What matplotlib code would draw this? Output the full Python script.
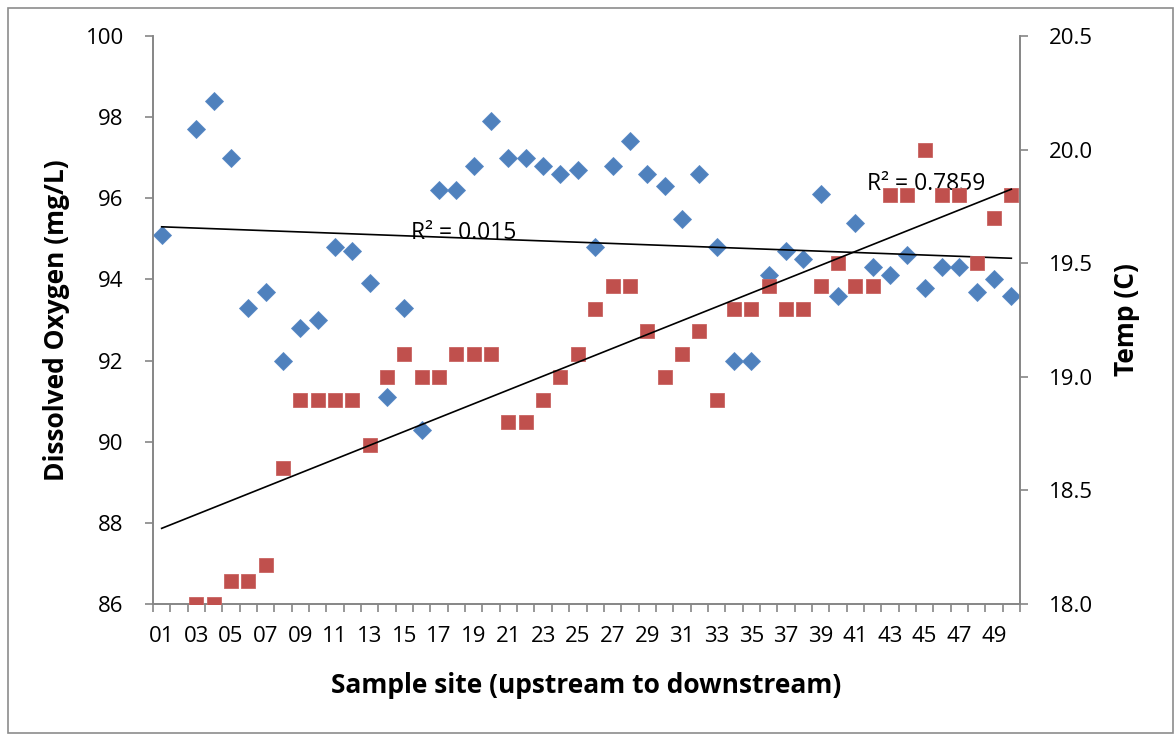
import numpy as np
import matplotlib.pyplot as plt
from matplotlib.patches import Rectangle

plt.rcParams['font.family'] = ['Open Sans', 'DejaVu Sans']

# sample sites 01..50 (site 02 has no readings, site 01 no temperature)
sites = np.arange(1, 51)
site_labels = ['%02d' % s for s in sites]

dissolved_oxygen = [
    95.1, None, 97.7, 98.4, 97.0, 93.3, 93.7, 92.0, 92.8, 93.0,
    94.8, 94.7, 93.9, 91.1, 93.3, 90.3, 96.2, 96.2, 96.8, 97.9,
    97.0, 97.0, 96.8, 96.6, 96.7, 94.8, 96.8, 97.4, 96.6, 96.3,
    95.5, 96.6, 94.8, 92.0, 92.0, 94.1, 94.7, 94.5, 96.1, 93.6,
    95.4, 94.3, 94.1, 94.6, 93.8, 94.3, 94.3, 93.7, 94.0, 93.6,
]
temperature = [
    None, None, 18.0, 18.0, 18.1, 18.1, 18.17, 18.6, 18.9, 18.9,
    18.9, 18.9, 18.7, 19.0, 19.1, 19.0, 19.0, 19.1, 19.1, 19.1,
    18.8, 18.8, 18.9, 19.0, 19.1, 19.3, 19.4, 19.4, 19.2, 19.0,
    19.1, 19.2, 18.9, 19.3, 19.3, 19.4, 19.3, 19.3, 19.4, 19.5,
    19.4, 19.4, 19.8, 19.8, 20.0, 19.8, 19.8, 19.5, 19.7, 19.8,
]
do_r2_text = 'R² = 0.015'
temp_r2_text = 'R² = 0.7859'

blue = '#4F81BD'
red = '#C0504D'
axis_gray = '#868686'


def fit_line(y):
    y = np.array([np.nan if v is None else v for v in y], dtype=float)
    ok = ~np.isnan(y)
    slope, icpt = np.polyfit(sites[ok], y[ok], 1)
    xs = np.array([sites[0], sites[-1]])
    return xs, slope * xs + icpt, y


fig = plt.figure(figsize=(11.75, 7.34), dpi=100)
fig.patches.append(Rectangle((7.5 / 1175, 1.5 / 734), 1165 / 1175, 725 / 734,
                             transform=fig.transFigure, fill=False,
                             edgecolor='#8c8c8c', linewidth=1.2))

ax = fig.add_axes([153 / 1175, 1 - 604 / 734, 867 / 1175, 568 / 734])
ax2 = ax.twinx()

xs, do_fit, do_vals = fit_line(dissolved_oxygen)
ax.plot(sites, do_vals, linestyle='none', marker='D', markersize=9.6,
        color=blue, markeredgecolor='#5a8ac6', markeredgewidth=0.6, zorder=3)
ax.plot(xs, do_fit, color='black', linewidth=1.2, zorder=4)

xs, t_fit, t_vals = fit_line(temperature)
ax2.plot(sites, t_vals, linestyle='none', marker='s', markersize=10.4,
         color=red, markeredgecolor='#c96461', markeredgewidth=0.6, zorder=3)
ax2.plot(xs, t_fit, color='black', linewidth=1.2, zorder=4)

ax.set_xlim(0.5, 50.5)
ax.set_ylim(86, 100)
ax2.set_ylim(18.0, 20.5)

ax.set_yticks(np.arange(86, 101, 2))
ax2.set_yticks(np.arange(18.0, 20.51, 0.5))
ax2.set_yticklabels(['%.1f' % v for v in np.arange(18.0, 20.51, 0.5)])

ax.set_xticks(np.arange(0.5, 51, 1))
ax.set_xticklabels([])
ax.set_xticks(sites[::2], minor=True)
ax.set_xticklabels(site_labels[::2], minor=True)
ax.tick_params(axis='x', which='major', length=6, width=1.2, color=axis_gray,
               direction='out')
ax.tick_params(axis='x', which='minor', length=0, labelsize=16, pad=16)
ax.tick_params(axis='y', length=6, width=1.2, color=axis_gray, labelsize=16, pad=15)
ax2.tick_params(axis='y', length=6, width=1.2, color=axis_gray, labelsize=16, pad=15)

for a in (ax, ax2):
    a.spines['top'].set_visible(False)
    for side in ('left', 'right', 'bottom'):
        a.spines[side].set_color(axis_gray)
        a.spines[side].set_linewidth(1.2)

ax.set_xlabel('Sample site (upstream to downstream)', fontsize=19,
              fontweight='bold', labelpad=18)
ax.set_ylabel('Dissolved Oxygen (mg/L)', fontsize=19, fontweight='bold',
              labelpad=11)
ax2.set_ylabel('Temp (C)', fontsize=19, fontweight='bold', labelpad=14)

ax.text(15.4, 95.15, do_r2_text, fontsize=16.5, va='center', ha='left', zorder=5)
ax.text(41.7, 96.35, temp_r2_text, fontsize=16.5, va='center', ha='left', zorder=5)

plt.savefig('out.png', dpi=100)
